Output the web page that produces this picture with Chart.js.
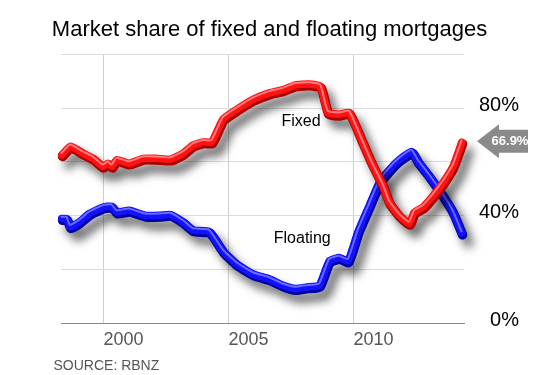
<!DOCTYPE html>
<html lang="en">
<head>
<meta charset="UTF-8">
<title>Market share of fixed and floating mortgages</title>
<style>
  html, body { margin: 0; padding: 0; background: #fff; }
  #wrap { width: 550px; height: 375px; }
</style>
</head>
<body>
<div id="wrap"><canvas id="myChart" width="550" height="375"></canvas></div>

<script src="https://cdn.jsdelivr.net/npm/chart.js"></script>
<script>
// share of mortgages (%)
const fixedYears = [1998.35, 1998.7, 1999.2, 1999.6, 2000.0, 2000.2, 2000.35, 2000.55, 2001.05, 2001.6, 2002.1, 2002.7, 2003.2, 2003.6, 2004.0, 2004.35, 2004.8, 2005.35, 2006.0, 2006.65, 2007.2, 2007.7, 2008.25, 2008.7, 2009.0, 2009.45, 2009.85, 2010.35, 2010.75, 2011.2, 2011.45, 2011.85, 2012.25, 2012.45, 2012.8, 2013.2, 2013.6, 2014.0, 2014.35];
const fixedShare = [62.2, 65.4, 62.8, 60.9, 57.9, 59.1, 57.9, 60.4, 59.1, 60.9, 60.9, 60.6, 62.8, 65.8, 67.0, 67.0, 75.5, 79.1, 82.8, 85.2, 86.4, 88.2, 88.5, 87.6, 77.9, 77.3, 77.9, 67.6, 59.1, 50.7, 44.6, 39.7, 36.7, 40.9, 42.8, 47.0, 51.9, 57.9, 66.9];

const floatYears = [1998.35, 1998.55, 1998.68, 1999.05, 1999.45, 2000.0, 2000.35, 2000.55, 2001.05, 2001.7, 2002.25, 2002.7, 2003.2, 2003.6, 2004.25, 2004.8, 2005.35, 2006.0, 2006.65, 2007.2, 2007.7, 2008.15, 2008.65, 2009.05, 2009.45, 2009.8, 2010.2, 2010.65, 2011.05, 2011.45, 2011.85, 2012.35, 2012.6, 2013.05, 2013.6, 2014.0, 2014.35];
const floatShare = [38.5, 38.5, 35.5, 37.3, 40.4, 42.8, 43.1, 40.9, 41.6, 39.7, 39.7, 40.0, 37.3, 34.3, 33.7, 26.4, 21.6, 17.9, 16.1, 13.7, 12.5, 13.1, 13.7, 22.8, 24.0, 22.8, 33.7, 43.4, 51.9, 56.7, 60.4, 63.4, 59.7, 54.3, 47.0, 40.9, 33.1];

const yearTicks = [2000, 2005, 2010];
const shareLabels = [0, 40, 80];
const lastFixed = fixedShare[fixedShare.length - 1];

// where the series names sit (data units)
const nameTags = [
    { text: 'Fixed', x: 2007.9, y: 75 },
    { text: 'Floating', x: 2007.95, y: 31.7 }
];

const FONT = '"Liberation Sans", Arial, sans-serif';

function points(xs, ys) {
    return xs.map((x, i) => ({ x: x, y: ys[i] }));
}

// one layer of the "tube" line
function layer(xs, ys, color, width, order, extra) {
    return Object.assign({
        data: points(xs, ys),
        borderColor: color,
        borderWidth: width,
        pointRadius: 0,
        tension: 0.15,
        fill: false,
        clip: false,
        order: order,
        borderCapStyle: 'round',
        borderJoinStyle: 'round'
    }, extra || {});
}

// shadow + small offsets to fake the 3D look
const tubeFx = {
    id: 'tubeFx',
    beforeDatasetDraw(chart, args) {
        const ds = chart.data.datasets[args.index];
        const ctx = chart.ctx;
        ctx.save();
        if (ds.shadow) {
            ctx.shadowColor = 'rgba(0,0,0,0.6)';
            ctx.shadowBlur = 10;
            ctx.shadowOffsetX = 6;
            ctx.shadowOffsetY = 8;
        }
        if (ds.shift) ctx.translate(ds.shift[0], ds.shift[1]);
    },
    afterDatasetDraw(chart) {
        chart.ctx.restore();
    }
};

const extras = {
    id: 'extras',
    afterDraw(chart) {
        const { ctx, chartArea, scales } = chart;
        ctx.save();

        // series names
        ctx.fillStyle = '#000';
        ctx.font = '16px ' + FONT;
        ctx.textAlign = 'center';
        ctx.textBaseline = 'middle';
        nameTags.forEach(t => {
            ctx.fillText(t.text, scales.x.getPixelForValue(t.x), scales.y.getPixelForValue(t.y));
        });

        // latest value arrow
        const y = scales.y.getPixelForValue(lastFixed) - 2;
        const x = chartArea.right + 13;
        ctx.fillStyle = '#8a8a8a';
        ctx.beginPath();
        ctx.moveTo(x, y);
        ctx.lineTo(x + 22, y - 17);
        ctx.lineTo(x + 22, y - 11.5);
        ctx.lineTo(x + 51, y - 11.5);
        ctx.lineTo(x + 51, y + 11.5);
        ctx.lineTo(x + 22, y + 11.5);
        ctx.lineTo(x + 22, y + 17);
        ctx.closePath();
        ctx.fill();
        ctx.fillStyle = '#fff';
        ctx.font = 'bold 13px "Liberation Sans Narrow", ' + FONT;
        ctx.fillText(lastFixed.toFixed(1) + '%', x + 33, y + 0.5);

        // source line
        ctx.fillStyle = '#555';
        ctx.font = '14px ' + FONT;
        ctx.textAlign = 'left';
        ctx.fillText('SOURCE: RBNZ', chartArea.left - 7.5, 366);
        ctx.restore();
    }
};

const ctx = document.getElementById('myChart').getContext('2d');
new Chart(ctx, {
    type: 'line',
    data: {
        datasets: [
            layer(fixedYears, fixedShare, '#ff7a7a', 2, 1, { label: 'Fixed hi', shift: [-0.8, -3] }),
            layer(fixedYears, fixedShare, '#ff1212', 7.5, 2, { label: 'Fixed', shift: [-0.5, -1.2] }),
            layer(fixedYears, fixedShare, '#a80000', 9.5, 3, { label: 'Fixed edge', shadow: true, shift: [0.3, 0.5] }),
            layer(floatYears, floatShare, '#6a6aff', 2, 4, { label: 'Floating hi', shift: [-0.8, -3] }),
            layer(floatYears, floatShare, '#1212ff', 7.5, 5, { label: 'Floating', shift: [-0.5, -1.2] }),
            layer(floatYears, floatShare, '#00009c', 9.5, 6, { label: 'Floating edge', shadow: true, shift: [0.3, 0.5] })
        ]
    },
    options: {
        responsive: false,
        animation: false,
        events: [],
        layout: { padding: { left: 20, right: 31, top: 0, bottom: 18 } },
        plugins: {
            legend: { display: false },
            tooltip: { enabled: false },
            title: {
                display: true,
                text: 'Market share of fixed and floating mortgages',
                color: '#000',
                font: { size: 22, weight: 'normal', family: FONT },
                padding: { top: 17, bottom: 10.9 }
            }
        },
        scales: {
            x: {
                type: 'linear',
                min: 1998.3,
                max: 2014.42,
                afterBuildTicks: s => { s.ticks = yearTicks.map(v => ({ value: v })); },
                ticks: {
                    align: 'start',
                    color: '#555',
                    padding: 6,
                    maxRotation: 0,
                    autoSkip: false,
                    font: { size: 18, family: FONT },
                    callback: v => String(v)
                },
                grid: { color: '#cfcfcf', drawTicks: false },
                border: { color: '#888' }
            },
            y: {
                position: 'right',
                min: 0,
                max: 100,
                ticks: {
                    stepSize: 20,
                    padding: 16,
                    crossAlign: 'far',
                    labelOffset: -3,
                    color: '#000',
                    font: { size: 20, family: FONT },
                    callback: v => shareLabels.includes(v) ? v + '%' : ''
                },
                grid: { color: '#dcdcdc', drawTicks: false },
                border: { display: false },
                afterFit: s => { s.width = 55; }
            },
            yLeft: {
                type: 'linear',
                position: 'left',
                grid: { display: false },
                border: { display: false },
                ticks: { display: false },
                afterFit: s => { s.width = 41; }
            }
        }
    },
    plugins: [tubeFx, extras]
});
</script>
</body>
</html>
